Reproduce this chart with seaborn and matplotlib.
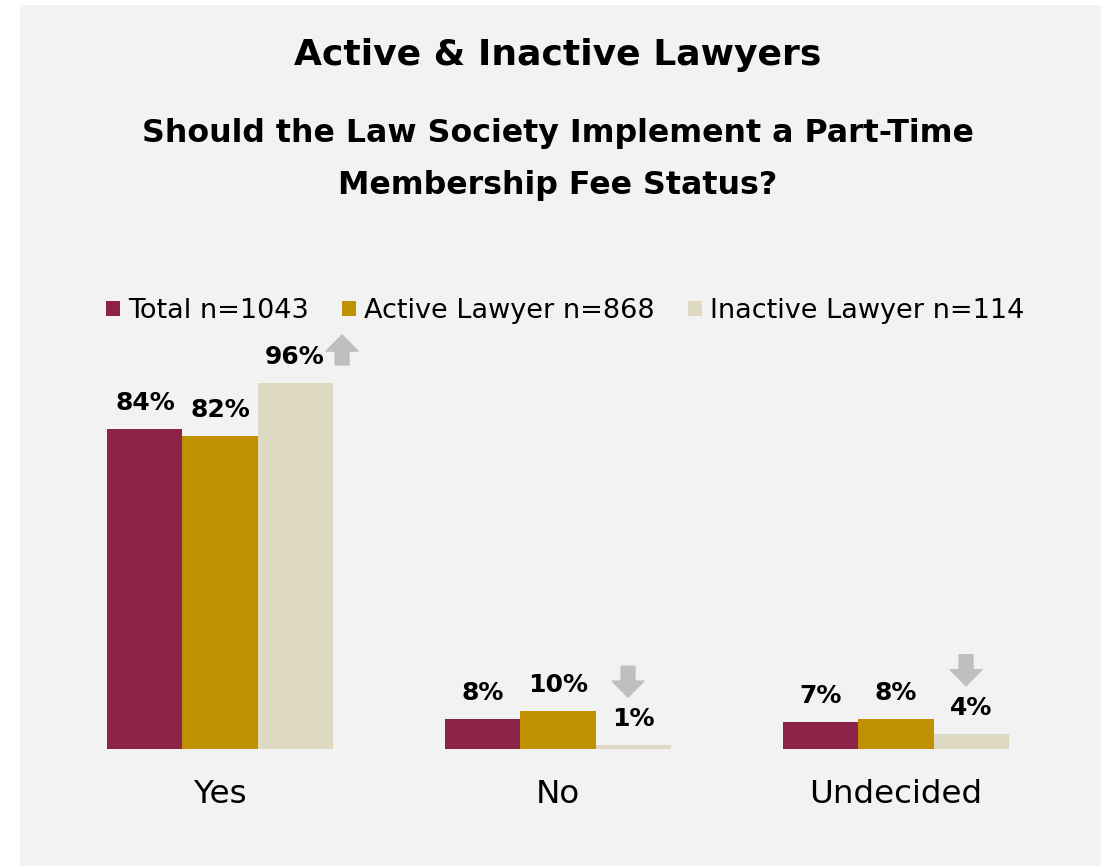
"""
Bar chart: part-time membership fee status, active vs inactive lawyers.
"""

import matplotlib.pyplot as plt
import matplotlib.transforms as mtrans
from matplotlib.patches import Rectangle
import pandas as pd
import seaborn as sns

# Data
answers = ["Yes", "No", "Undecided"]
groups = ["Total n=1043", "Active Lawyer n=868", "Inactive Lawyer n=114"]
total_pct = [84, 8, 7]
active_pct = [82, 10, 8]
inactive_pct = [96, 1, 4]
inactive_change = ["up", "down", "down"]

colors = ["#8C2346", "#BF9000", "#DDD9C3"]
bg_color = "#F2F2F2"
arrow_color = "#BFBFBF"

sns.set_style("white")
plt.rcParams["font.family"] = ["DejaVu Sans"]
plt.rcParams["text.color"] = "black"
plt.rcParams["xtick.color"] = "black"

df = pd.DataFrame({
    "answer": answers * 3,
    "group": [g for g in groups for _ in answers],
    "pct": total_pct + active_pct + inactive_pct,
})

W, H = 1101, 866
fig = plt.figure(figsize=(W / 100, H / 100), dpi=100)
fig.patch.set_facecolor("white")

# Grey panel behind everything
fig.patches.append(Rectangle((20 / W, 0), 1, 1 - 5 / H, transform=fig.transFigure,
                             facecolor=bg_color, edgecolor="none", zorder=-5))

ax = fig.add_axes([51 / W, 117 / H, 1014 / W, 381.25 / H])
ax.set_facecolor("none")

sns.barplot(data=df, x="answer", y="pct", hue="group", order=answers, hue_order=groups,
            palette=colors, width=0.666, saturation=1, errorbar=None, linewidth=0, ax=ax)

ax.set_xlim(-0.5, 2.5)
ax.set_ylim(0, 100)
ax.set_yticks([])
ax.set_xlabel("")
ax.set_ylabel("")
sns.despine(ax=ax, left=True, bottom=True)
ax.tick_params(axis="x", length=0, pad=21.5, labelsize=23.4, labelcolor="black")

# Value labels above bars
for container in ax.containers:
    for bar in container:
        h = bar.get_height()
        cx = bar.get_x() + bar.get_width() / 2
        ax.annotate(f"{h:.0f}%", xy=(cx, h), xytext=(0, 19), textcoords="offset pixels",
                    ha="center", va="baseline", fontsize=18, fontweight="bold")

# Significance arrows on the inactive bars
arrow_style = "simple,head_length=0.58,head_width=1.15,tail_width=0.5"
for bar, change in zip(ax.containers[2], inactive_change):
    h = bar.get_height()
    cx = bar.get_x() + bar.get_width() / 2
    if change == "up":
        dx, tail_y, tip_y = 47, 18, 48
    else:
        dx, tail_y, tip_y = -5, 79, 48
    tip = mtrans.offset_copy(ax.transData, fig=fig, x=dx, y=tip_y, units="dots")
    tail = mtrans.offset_copy(ax.transData, fig=fig, x=dx, y=tail_y, units="dots")
    ax.annotate("", xy=(cx, h), xycoords=tip, xytext=(cx, h), textcoords=tail,
                arrowprops=dict(arrowstyle=arrow_style, color=arrow_color,
                                mutation_scale=20, shrinkA=0, shrinkB=0))

# Legend
handles, labels = ax.get_legend_handles_labels()
ax.legend(handles, labels, loc="center", bbox_to_anchor=(565 / W, 1 - 311 / H),
          bbox_transform=fig.transFigure, ncol=3, frameon=False, fontsize=19.5,
          handlelength=0.52, handleheight=0.52, handletextpad=0.3, columnspacing=1.22)

# Titles
fig.text(558 / W, 1 - 65 / H, "Active & Inactive Lawyers", ha="center", va="baseline",
         fontsize=26, fontweight="bold")
fig.text(558 / W, 1 - 142 / H, "Should the Law Society Implement a Part-Time",
         ha="center", va="baseline", fontsize=22.8, fontweight="bold")
fig.text(558 / W, 1 - 194 / H, "Membership Fee Status?",
         ha="center", va="baseline", fontsize=22.8, fontweight="bold")

fig.savefig("out.png", dpi=100)
plt.close(fig)
